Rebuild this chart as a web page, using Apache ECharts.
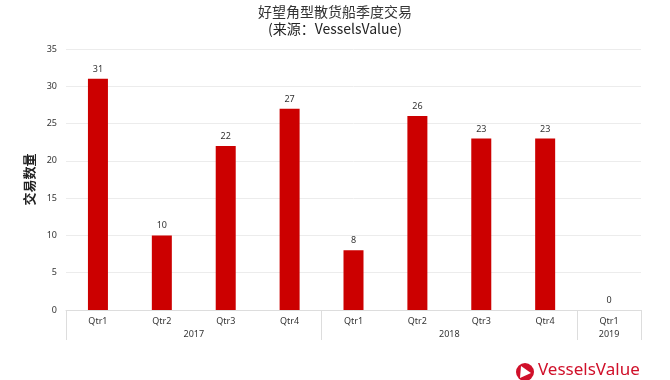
<!DOCTYPE html>
<html><head><meta charset="utf-8">
<script src="https://cdn.jsdelivr.net/npm/echarts@6/dist/echarts.min.js"></script>
<style>html,body{margin:0;padding:0;background:#fff}#c{width:670px;height:380px}</style>
</head><body><div id="c"></div>
<script>
const quarters = ['Qtr1','Qtr2','Qtr3','Qtr4','Qtr1','Qtr2','Qtr3','Qtr4','Qtr1'];
const deals = [31,10,22,27,8,26,23,23,0];
const years = ['2017','2018','2019'];
const yearQuarterCounts = [4,4,1];
const yTicks = [0,5,10,15,20,25,30,35];

// build half-slot year axis (boundaryGap false): 2*N+1 points
const halfSlots = new Array(quarters.length*2+1).fill('');
const boundaries = [0];
let pos = 0;
yearQuarterCounts.forEach((n,i)=>{ halfSlots[pos*2+n] = years[i]; pos += n; boundaries.push(pos*2); });

const chart = echarts.init(document.getElementById('c'));
const font = "'Noto Sans','Noto Sans CJK SC',sans-serif";
chart.setOption({
  animation:false,
  textStyle:{fontFamily:font},
  title:{text:'好望角型散货船季度交易',subtext:'(来源：VesselsValue)',left:'center',top:0,itemGap:3,
    textStyle:{fontSize:14,fontWeight:'normal',color:'#333',fontFamily:"'Noto Sans CJK SC',serif"},
    subtextStyle:{fontSize:14,color:'#222',fontFamily:"'Noto Sans CJK SC','Noto Sans',sans-serif"}},
  grid:{left:66,right:29,top:49,bottom:70},
  xAxis:[
    {type:'category',data:quarters,axisLine:{lineStyle:{color:'#ddd'}},axisTick:{show:false},
     axisLabel:{fontSize:9,color:'#333',margin:7}},
    {type:'category',data:halfSlots,boundaryGap:false,position:'bottom',
     axisLine:{show:false},
     axisTick:{show:true,length:30,interval:(i)=>boundaries.includes(i),lineStyle:{color:'#ddd'}},
     axisLabel:{fontSize:9,color:'#333',margin:20,interval:(i,v)=>v!==''}}
  ],
  yAxis:{type:'value',min:yTicks[0],max:yTicks[yTicks.length-1],interval:5,
    name:'交易数量',nameLocation:'middle',nameRotate:90,nameGap:21,
    nameTextStyle:{fontSize:13,fontWeight:'bold',color:'#222',fontFamily:"'Noto Sans CJK SC',sans-serif"},
    axisLine:{show:false},axisTick:{show:false},
    axisLabel:{fontSize:9,color:'#333',margin:9},
    splitLine:{lineStyle:{color:'#ececec'}}},
  series:[{type:'bar',data:deals,barWidth:20,itemStyle:{color:'#cc0000'},
    label:{show:true,position:'top',fontSize:9,color:'#333',distance:5}}],
  graphic:[
    {type:'circle',shape:{cx:525,cy:372,r:9},style:{fill:'#d0102a'}},
    {type:'polygon',shape:{points:[[521,366],[531,373],[520,378]]},style:{fill:'#fff'}},
    {type:'text',left:538,top:362,style:{text:'VesselsValue',fontSize:17,fill:'#d0102a',fontFamily:font}}
  ]
});
</script></body></html>
